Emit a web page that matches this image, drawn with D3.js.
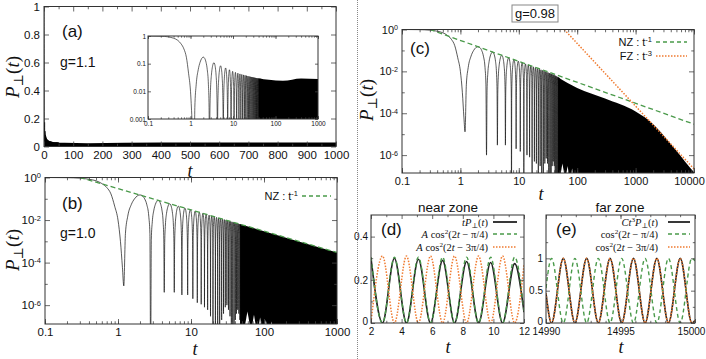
<!DOCTYPE html>
<html>
<head>
<meta charset="utf-8">
<script src="https://cdn.jsdelivr.net/npm/d3@7"></script>
<style>
body { margin: 0; background: #fff; }
svg { font-family: "Liberation Sans", Arial, sans-serif; }
</style>
</head>
<body>
<script>
// ---------- values ----------
// times of the dips of P(t) (same oscillation for every g)
var dipT = [1.2, 2.8, 4.3, 5.9, 7.5, 9.0, 10.6, 12.2, 13.8, 15.3, 16.9, 18.5, 20.0, 21.6, 23.2, 24.7,
            26.3, 27.9, 29.5, 31.0, 32.6, 34.2, 35.7, 37.3, 38.9, 40.5, 42.0, 43.6, 45.2, 46.7, 48.3, 49.9];
// first decay, before the first dip
var archP = [[0.1, 1], [0.2, 0.98], [0.3, 0.93], [0.4, 0.83], [0.5, 0.7], [0.6, 0.52], [0.7, 0.34],
             [0.8, 0.17], [0.9, 0.045], [1.0, 0.01], [1.08, 0.001], [1.15, 6e-5]];
// shape of one arch between two dips: [fraction of interval, fraction of peak]
var lobeShape = [[0.04, 0.015], [0.1, 0.1], [0.2, 0.35], [0.3, 0.65], [0.4, 0.9], [0.5, 1],
                 [0.6, 0.9], [0.7, 0.65], [0.8, 0.35], [0.9, 0.1], [0.96, 0.015]];
// upper envelopes [t, P]
var envA = [[1.9, 0.18], [3.5, 0.11], [5, 0.085], [7, 0.068], [10, 0.052], [15, 0.042], [25, 0.034],
            [40, 0.029], [70, 0.026], [150, 0.024], [400, 0.029], [1000, 0.028]];
var envB = [[1.9, 0.16], [3.5, 0.085], [10, 0.03], [100, 0.003], [1000, 3e-4]];
var envC = [[1.9, 0.16], [3.5, 0.085], [10, 0.03], [20, 0.0145], [40, 0.0068], [100, 0.0016],
            [300, 5e-4], [1000, 1.2e-4], [2000, 3e-5], [3000, 9e-6], [5000, 1.6e-6], [7000, 5e-7], [10000, 1.5e-7]];
// depth reached at each dip (0 = below the plot)
var depthB = [8e-6, 0, 4e-6, 4e-6, 3e-6, 3e-6, 2e-6, 1.3e-6, 1.1e-6, 8e-7, 6e-7, 3e-7, 0, 0, 0, 0,
              2e-7, 4e-7, 8e-7, 1e-6, 6e-7, 3e-7, 0, 0, 0, 2e-7, 4e-7, 6e-7, 4e-7, 2e-7, 0, 0];
var depthC = [1.3e-5, 1e-6, 3e-6, 3e-6, 0, 2e-6, 1.5e-6, 0, 1e-6, 8e-7, 0, 5e-7, 4e-7, 0, 3e-7, 0,
              0, 4e-7, 7e-7, 4e-7, 0, 0, 0, 3e-7, 5e-7, 3e-7, 0, 0, 0, 0, 0, 0];
// white gaps at the bottom of the dense region [tLeft, tRight, top]
var tentsB = [[55, 64, 5e-7], [69, 77, 3.5e-7], [85, 92, 2.6e-7], [103, 109, 2e-7], [124, 129, 1.7e-7]];
var tentsC = [[52, 60, 4e-7], [65, 72, 3e-7], [79, 85, 2.3e-7]];
// power laws
var nzB = [[0.3, 1], [1000, 3e-4]];
var nzC = [[0.3, 1], [10000, 3e-5]];
var fzC = [[60, 1], [10000, 2.2e-7]];
// near zone (d)
var nearBlack = [[2, 0.30], [2.75, 0], [3.53, 0.30], [4.32, 0], [5.10, 0.295], [5.89, 0], [6.68, 0.29], [7.46, 0],
                 [8.25, 0.285], [9.03, 0], [9.82, 0.28], [10.6, 0], [11.39, 0.275], [12, 0.05]];
var nearGreen = [[2, 0.305], [2.75, 0], [3.53, 0.305], [4.32, 0], [5.10, 0.305], [5.89, 0], [6.68, 0.305], [7.46, 0],
                 [8.25, 0.305], [9.03, 0], [9.82, 0.305], [10.6, 0], [11.39, 0.305], [12, 0.055]];
var nearOrange = [[2, 0.003], [2.75, 0.31], [3.53, 0], [4.32, 0.31], [5.10, 0], [5.89, 0.31], [6.68, 0], [7.46, 0.31],
                  [8.25, 0], [9.03, 0.31], [9.82, 0], [10.6, 0.31], [11.39, 0], [12, 0.27]];
// far zone (e)
var farBlack = [[14990, 0.46], [14990.37, 0], [14991.16, 1], [14991.94, 0], [14992.73, 1], [14993.51, 0], [14994.3, 1],
                [14995.08, 0], [14995.87, 1], [14996.65, 0], [14997.44, 1], [14998.22, 0], [14999.01, 1], [14999.79, 0], [15000, 0.04]];
var farGreen = [[14990, 0.54], [14990.37, 1], [14991.16, 0], [14991.94, 1], [14992.73, 0], [14993.51, 1], [14994.3, 0],
                [14995.08, 1], [14995.87, 0], [14996.65, 1], [14997.44, 0], [14998.22, 1], [14999.01, 0], [14999.79, 1], [15000, 0.96]];
var farOrange = [[14990, 0.46], [14990.37, 0], [14991.16, 1], [14991.94, 0], [14992.73, 1], [14993.51, 0], [14994.3, 1],
                 [14995.08, 0], [14995.87, 1], [14996.65, 0], [14997.44, 1], [14998.22, 0], [14999.01, 1], [14999.79, 0], [15000, 0.04]];
// ticks
var linTicksA = [0, 100, 200, 300, 400, 500, 600, 700, 800, 900, 1000];
var yTicksA = [0, 0.2, 0.4, 0.6, 0.8, 1];
var logTicks3 = [0.1, 1, 10, 100, 1000];
var logTicks4 = [0.1, 1, 10, 100, 1000, 10000];
var decTicks = [1, 1e-2, 1e-4, 1e-6];
var decMinor = [1e-1, 1e-3, 1e-5];
var insetYTicks = [1, 0.1, 0.01, 0.001];
var nearXTicks = [2, 4, 6, 8, 10, 12];
var nearYTicks = [0, 0.2, 0.4];
var farXTicks = [14990, 14995, 15000];
var farYTicks = [0, 0.5, 1];
var legNear = [[["t", "i"], ["P", "i"], ["⊥", "s"], ["(", "r"], ["t", "i"], [")", "r"]],
               [["A", "i"], [" cos", "r"], ["2", "u"], ["(2", "r"], ["t", "i"], [" − π/4)", "r"]],
               [["A", "i"], [" cos", "r"], ["2", "u"], ["(2", "r"], ["t", "i"], [" − 3π/4)", "r"]]];
var legFar = [[["Ct", "i"], ["3", "u"], ["P", "i"], ["⊥", "s"], ["(", "r"], ["t", "i"], [")", "r"]],
              [["cos", "r"], ["2", "u"], ["(2", "r"], ["t", "i"], [" − π/4)", "r"]],
              [["cos", "r"], ["2", "u"], ["(2", "r"], ["t", "i"], [" − 3π/4)", "r"]]];
var legRowY = [222, 234, 247];

var GREEN = "#4a9a4a", ORANGE = "#f07b30", SERIF = "'Liberation Serif','DejaVu Serif',serif";

var svg = d3.select("body").append("svg").attr("width", 706).attr("height", 359);
var clipN = 0;

// ---------- helpers ----------
function envFn(env) {
    var s = d3.scaleLinear()
        .domain(env.map(d => Math.log10(d[0])))
        .range(env.map(d => Math.log10(d[1])))
        .clamp(true);
    return t => Math.pow(10, s(Math.log10(t)));
}

function trace(env, depths, floor) {
    var e = envFn(env), pts = archP.slice(), i;
    for (i = 0; i < dipT.length - 1; i++) {
        var t0 = dipT[i], t1 = dipT[i + 1], pk = e((t0 + t1) / 2);
        pts.push([t0, depths && depths[i] ? depths[i] : floor]);
        lobeShape.forEach(s => pts.push([t0 + s[0] * (t1 - t0), pk * s[1]]));
    }
    pts.push([dipT[i], floor]);
    return pts;
}

function clipped(x, y) {
    var id = "clip" + (clipN++);
    svg.append("clipPath").attr("id", id).append("rect")
        .attr("x", x.range()[0]).attr("y", y.range()[1])
        .attr("width", x.range()[1] - x.range()[0]).attr("height", y.range()[0] - y.range()[1]);
    return svg.append("g").attr("clip-path", "url(#" + id + ")");
}

function denseArea(g, x, y, env, t0, t1) {
    var e = envFn(env);
    var ts = [t0].concat(env.map(d => d[0]).filter(t => t > t0 && t < t1)).concat([t1]);
    g.append("path").datum(ts)
        .attr("d", d3.area().x(t => x(t)).y0(y.range()[0] + 2).y1(t => y(e(t))).curve(d3.curveMonotoneX))
        .attr("fill", "#000");
}

function tents(g, x, y, list) {
    list.forEach(function (d) {
        var b = y.range()[0] + 1;
        g.append("path")
            .attr("d", "M" + x(d[0]) + "," + b + "L" + x(Math.sqrt(d[0] * d[1])) + "," + y(d[2]) + "L" + x(d[1]) + "," + b + "Z")
            .attr("fill", "#fff");
    });
}

function curve(g, x, y, data, color, width, dash, c) {
    var p = g.append("path").datum(data)
        .attr("d", d3.line().x(d => x(d[0])).y(d => y(d[1])).curve(c || d3.curveLinear))
        .attr("fill", "none").attr("stroke", color).attr("stroke-width", width);
    if (dash) p.attr("stroke-dasharray", dash);
    return p;
}

function frame(x, y, o) {
    var g = svg.append("g");
    var x0 = x.range()[0], x1 = x.range()[1], y0 = y.range()[0], y1 = y.range()[1];
    var fs = o.fs || 11, len = o.len || 5, none = () => "";
    function ax(gen, tr, vals, fmt, size, pad) {
        if (!vals) return;
        var a = g.append("g").attr("transform", tr)
            .call(gen.tickValues(vals).tickFormat(fmt || none).tickSize(-size).tickPadding(pad || 4));
        a.select(".domain").remove();
        a.selectAll("line").attr("stroke", "#444").attr("stroke-width", 0.8);
        a.selectAll("text").attr("font-size", fs).attr("fill", "#111")
            .attr("font-family", "'Liberation Sans',Arial,sans-serif");
        return a;
    }
    var bx = ax(d3.axisBottom(x), "translate(0," + y0 + ")", o.xt, o.xf, len, o.xpad || o.pad);
    ax(d3.axisBottom(x), "translate(0," + y0 + ")", o.xm, null, len * 0.55);
    ax(d3.axisTop(x), "translate(0," + y1 + ")", o.xt, null, len);
    ax(d3.axisTop(x), "translate(0," + y1 + ")", o.xm, null, len * 0.55);
    var ly = ax(d3.axisLeft(y), "translate(" + x0 + ",0)", o.yt, o.yf, len, o.pad);
    ax(d3.axisLeft(y), "translate(" + x0 + ",0)", o.ym, null, len * 0.55);
    ax(d3.axisRight(y), "translate(" + x1 + ",0)", o.yt, null, len);
    ax(d3.axisRight(y), "translate(" + x1 + ",0)", o.ym, null, len * 0.55);
    if (o.lastDx) bx.selectAll(".tick:last-of-type text").attr("dx", o.lastDx);
    if (o.lowDy) ly.selectAll(".tick:first-of-type text").attr("dy", o.lowDy);
    if (o.sup) {
        ly.selectAll(".tick text").each(function (d) {
            var t = d3.select(this);
            t.text("10");
            t.append("tspan").attr("dy", "-0.45em").attr("font-size", "0.65em").text(Math.round(Math.log10(d)));
        });
    }
    g.append("rect").attr("x", x0).attr("y", y1).attr("width", x1 - x0).attr("height", y0 - y1)
        .attr("fill", "none").attr("stroke", "#333").attr("stroke-width", 1);
    return g;
}

function pLabel(x, y, size) {
    var t = svg.append("text").attr("transform", "translate(" + x + "," + y + ") rotate(-90)")
        .attr("text-anchor", "middle").attr("font-family", SERIF).attr("font-size", size).attr("fill", "#111");
    t.append("tspan").attr("font-style", "italic").text("P");
    t.append("tspan").attr("dy", size * 0.22).attr("font-size", size * 0.7).text("⊥");
    t.append("tspan").attr("dy", -size * 0.22).text("(");
    t.append("tspan").attr("font-style", "italic").text("t");
    t.append("tspan").text(")");
}

function tLabel(x, y) {
    svg.append("text").attr("x", x).attr("y", y).attr("text-anchor", "middle")
        .attr("font-family", SERIF).attr("font-style", "italic").attr("font-size", 18).attr("fill", "#111").text("t");
}

function label(x, y, txt, size, anchor) {
    return svg.append("text").attr("x", x).attr("y", y).attr("font-size", size)
        .attr("text-anchor", anchor || "start").attr("fill", "#111").text(txt);
}

function mathText(x, y, parts, size) {
    var t = svg.append("text").attr("x", x).attr("y", y).attr("text-anchor", "end")
        .attr("font-family", SERIF).attr("font-size", size).attr("fill", "#111");
    var shift = 0;
    parts.forEach(function (p) {
        var s = t.append("tspan").text(p[0]);
        var want = p[1] == "u" ? -size * 0.33 : p[1] == "s" ? size * 0.2 : 0;
        if (want != shift) { s.attr("dy", want - shift); shift = want; }
        if (p[1] == "i") s.attr("font-style", "italic");
        if (p[1] == "u" || p[1] == "s") s.attr("font-size", size * 0.68);
    });
}

function powerLegend(x, y, name, exp, color, dash, x1, x2) {
    var t = label(x, y, name + " : t", 11, "end");
    t.append("tspan").attr("dy", -4).attr("font-size", 7.5).text(exp);
    svg.append("line").attr("x1", x1).attr("x2", x2).attr("y1", y - 4).attr("y2", y - 4)
        .attr("stroke", color).attr("stroke-width", 1.3).attr("stroke-dasharray", dash);
}

function zoneLegend(xText, x1, x2, rows) {
    [["#222", null, 1.8], [GREEN, "4,3", 1.4], [ORANGE, "1.5,1.5", 1.5]].forEach(function (s, i) {
        var yy = legRowY[i];
        mathText(xText, yy + 3.5, rows[i], 10.5);
        var l = svg.append("line").attr("x1", x1).attr("x2", x2).attr("y1", yy).attr("y2", yy)
            .attr("stroke", s[0]).attr("stroke-width", s[2]);
        if (s[1]) l.attr("stroke-dasharray", s[1]);
    });
}

// ---------- panel (a): g = 1.1, linear ----------
var xA = d3.scaleLinear().domain([0, 1000]).range([44, 336]);
var yA = d3.scaleLinear().domain([0, 1]).range([146.5, 6.5]);
var gA = clipped(xA, yA);
curve(gA, xA, yA, trace(envA, null, 0), "#000", 0.8, null, d3.curveMonotoneX);
denseArea(gA, xA, yA, envA, 40, 1000);
frame(xA, yA, {xt: linTicksA, xf: d3.format("d"), xm: d3.range(50, 1000, 100), yt: yTicksA, yf: d => String(d), fs: 11.5});
label(62, 37, "(a)", 17);
label(60, 67, "g=1.1", 14);
pLabel(19, 77, 19);
tLabel(190, 177);

// inset
var xI = d3.scaleLog().domain([0.1, 1000]).range([148, 318]);
var yI = d3.scaleLog().domain([0.001, 1]).range([119, 36]);
svg.append("rect").attr("x", 148).attr("y", 36).attr("width", 170).attr("height", 83).attr("fill", "#fff");
var gI = clipped(xI, yI);
curve(gI, xI, yI, trace(envA, null, 1e-6), "#000", 0.6, null, d3.curveMonotoneX);
denseArea(gI, xI, yI, envA, 40, 1000);
frame(xI, yI, {xt: logTicks3, xf: d => String(d), xm: xI.ticks(), yt: insetYTicks, yf: d => String(d), fs: 6.5, len: 3, pad: 2});

// ---------- panel (b): g = 1.0 ----------
var xB = d3.scaleLog().domain([0.1, 1000]).range([45, 337]);
var yB = d3.scaleLog().domain([1.3e-7, 1]).range([324, 177.5]);
var gB = clipped(xB, yB);
curve(gB, xB, yB, trace(envB, depthB, 1e-9), "#111", 0.7, null, d3.curveMonotoneX);
denseArea(gB, xB, yB, envB, 47, 1000);
tents(gB, xB, yB, tentsB);
curve(gB, xB, yB, nzB, GREEN, 1.3, "5,3");
frame(xB, yB, {xt: logTicks3, xf: d => String(d), xm: xB.ticks(), yt: decTicks, ym: decMinor, sup: true, fs: 11.5});
label(62, 209, "(b)", 17);
label(60, 238, "g=1.0", 14);
powerLegend(298, 200, "NZ", "-1", GREEN, "4,3", 302, 331);
pLabel(19, 250, 19);
tLabel(195, 355);

// ---------- panel (c): g = 0.98 ----------
var xC = d3.scaleLog().domain([0.1, 10000]).range([402, 694]);
var yC = d3.scaleLog().domain([1.4e-7, 1]).range([173, 29.5]);
var gC = clipped(xC, yC);
curve(gC, xC, yC, trace(envC, depthC, 1e-9), "#111", 0.7, null, d3.curveMonotoneX);
denseArea(gC, xC, yC, envC, 47, 10000);
tents(gC, xC, yC, tentsC);
curve(gC, xC, yC, nzC, GREEN, 1.3, "5,3");
curve(gC, xC, yC, fzC, ORANGE, 1.5, "1.5,1.5");
frame(xC, yC, {xt: logTicks4, xf: d => String(d), xm: xC.ticks(), yt: decTicks, ym: decMinor, sup: true, fs: 11, lastDx: -5});
svg.append("rect").attr("x", 512).attr("y", 5).attr("width", 46).attr("height", 17)
    .attr("fill", "none").attr("stroke", "#888").attr("stroke-width", 1);
label(535, 18, "g=0.98", 13, "middle");
label(410, 54, "(c)", 17);
powerLegend(652, 46, "NZ", "-1", GREEN, "4,3", 656, 687);
powerLegend(652, 60, "FZ", "-3", ORANGE, "1.5,1.5", 656, 687);
pLabel(373, 100, 19);
tLabel(541, 200);

// ---------- panel (d): near zone ----------
var xD = d3.scaleLinear().domain([2, 12]).range([371, 524]);
var yD = d3.scaleLinear().domain([0, 0.5]).range([323, 215]);
var gD = clipped(xD, yD);
curve(gD, xD, yD, nearBlack, "#222", 1.6, null, d3.curveMonotoneX);
curve(gD, xD, yD, nearGreen, GREEN, 1.4, "4,3", d3.curveMonotoneX);
curve(gD, xD, yD, nearOrange, ORANGE, 1.5, "1.5,1.5", d3.curveMonotoneX);
frame(xD, yD, {xt: nearXTicks, xf: d3.format("d"), xm: [3, 5, 7, 9, 11], yt: nearYTicks, yf: d => String(d), ym: [0.1, 0.3], fs: 10, len: 4, pad: 3, xpad: 5, lowDy: "0.1em"});
label(448, 212, "near zone", 13.5, "middle");
label(381, 235, "(d)", 17);
zoneLegend(488, 493, 517, legNear);
tLabel(448, 353);

// ---------- panel (e): far zone ----------
var xE = d3.scaleLinear().domain([14990, 15000]).range([546, 695]);
var yE = d3.scaleLinear().domain([0, 1.67]).range([323, 215]);
var gE = clipped(xE, yE);
curve(gE, xE, yE, farBlack, "#222", 1.6, null, d3.curveMonotoneX);
curve(gE, xE, yE, farGreen, GREEN, 1.4, "4,3", d3.curveMonotoneX);
curve(gE, xE, yE, farOrange, ORANGE, 1.5, "1.5,1.5", d3.curveMonotoneX);
frame(xE, yE, {xt: farXTicks, xf: d3.format("d"), xm: d3.range(14991, 15000), yt: farYTicks, yf: d => String(d), ym: [0.25, 0.75, 1.25], fs: 10, len: 4, pad: 3, xpad: 5, lastDx: -4, lowDy: "0.1em"});
label(620, 212, "far zone", 13.5, "middle");
label(556, 235, "(e)", 17);
zoneLegend(658, 668, 690, legFar);
tLabel(621, 353);

// dotted divider
svg.append("line").attr("x1", 357.5).attr("x2", 357.5).attr("y1", 0).attr("y2", 359)
    .attr("stroke", "#888").attr("stroke-width", 1).attr("stroke-dasharray", "1,1");
</script>
</body>
</html>
